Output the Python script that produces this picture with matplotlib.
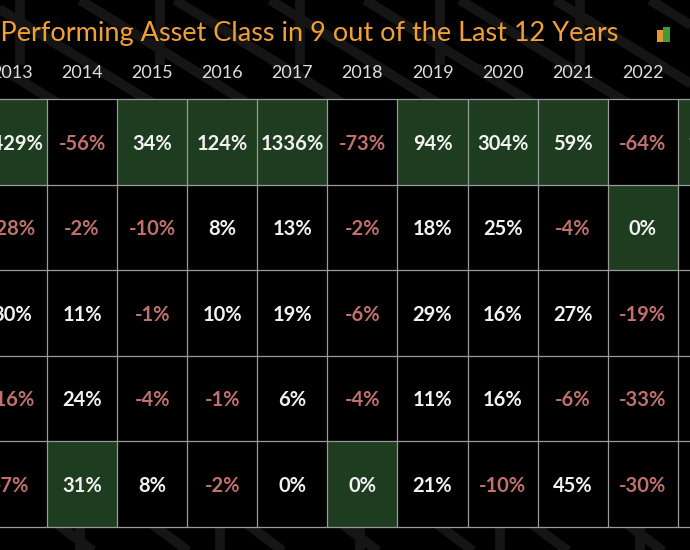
import numpy as np
import matplotlib.pyplot as plt
from matplotlib.patches import Rectangle

plt.rcParams['font.family'] = ['Lato', 'DejaVu Sans']

# Datos de la tabla (rendimientos anuales en %)
years = ['2013', '2014', '2015', '2016', '2017', '2018', '2019', '2020', '2021', '2022', '2023']
bitcoin = [5429, -56, 34, 124, 1336, -73, 94, 304, 59, -64, 155]
gold = [-28, -2, -10, 8, 13, -2, 18, 25, -4, 0, 13]
stocks = [30, 11, -1, 10, 19, -6, 29, 16, 27, -19, 24]
asset_4 = [-16, 24, -4, -1, 6, -4, 11, 16, -6, -33, 5]
asset_5 = [-7, 31, 8, -2, 0, 0, 21, -10, 45, -30, 9]

title = 'Bitcoin: The Best Performing Asset Class in 9 out of the Last 12 Years'

tabla = np.array([bitcoin, gold, stocks, asset_4, asset_5])
mejor = tabla.argmax(axis=0)

# Colores
fondo = 'black'
verde = '#1e3d20'
rojo = '#c1716d'
blanco = '#f2f2f2'
linea = '#9a9a9a'
naranja = '#f0a035'
trama = '#151515'

# Geometria en pixeles de la referencia
W, H = 690, 550
col_w, x0 = 70.1, -23.1
row_h, y0 = 85.6, 99

fig = plt.figure(figsize=(W / 100, H / 100), dpi=100, facecolor=fondo)

# Fondo decorativo (trazos diagonales oscuros)
bg = fig.add_axes([0, 0, 1, 1], zorder=0)
bg.set_xlim(0, W)
bg.set_ylim(H, 0)
bg.axis('off')
for xs in range(-300, 760, 95):
    bg.plot([xs, xs + 260], [0, 160], color=trama, lw=7, solid_capstyle='butt')
    bg.plot([xs + 40, xs + 120], [500, 560], color=trama, lw=7, solid_capstyle='butt')
for xs in [20, 160, 300, 440, 580]:
    bg.plot([xs, xs], [0, 60], color=trama, lw=7)
    bg.plot([xs + 60, xs + 60], [525, 550], color=trama, lw=7)

ax = fig.add_axes([0, 0, 1, 1], zorder=1)
ax.patch.set_visible(False)
ax.set_xlim((0 - x0) / col_w, (W - x0) / col_w)
ax.set_ylim((H - y0) / row_h, (0 - y0) / row_h)
ax.axis('off')

n_rows, n_cols = tabla.shape

# Celdas
for i in range(n_cols):
    for j in range(n_rows):
        color = verde if mejor[i] == j else fondo
        ax.add_patch(Rectangle((i, j), 1, 1, facecolor=color, edgecolor='none', zorder=1))
        v = tabla[j, i]
        ax.text(i + 0.5, j + 0.52, f'{v}%', ha='center', va='center',
                color=rojo if v < 0 else blanco, fontsize=14.5, fontweight='bold', zorder=3)

# Lineas de la cuadricula
ax.vlines(np.arange(n_cols + 1), 0, n_rows, color=linea, lw=0.9, zorder=2)
ax.hlines(np.arange(n_rows + 1), 0, n_cols, color=linea, lw=0.9, zorder=2)

# Encabezados de años
for i, y in enumerate(years):
    ax.text(i + 0.5, (73 - y0) / row_h, y, ha='center', va='center',
            color='#dedede', fontsize=13)

# Titulo
fig.text(618 / W, 1 - 34 / H, title, ha='right', va='center',
         color=naranja, fontsize=19.5, zorder=2)

# Logo pequeño
fig.patches.append(Rectangle((657 / W, 1 - 42 / H), 6 / W, 12 / H, transform=fig.transFigure,
                             facecolor='#e8962e', edgecolor='none', zorder=2))
fig.patches.append(Rectangle((663 / W, 1 - 42 / H), 7 / W, 15 / H, transform=fig.transFigure,
                             facecolor='#3f9a3a', edgecolor='none', zorder=2))

fig.savefig('out.png', dpi=100, facecolor=fondo)
